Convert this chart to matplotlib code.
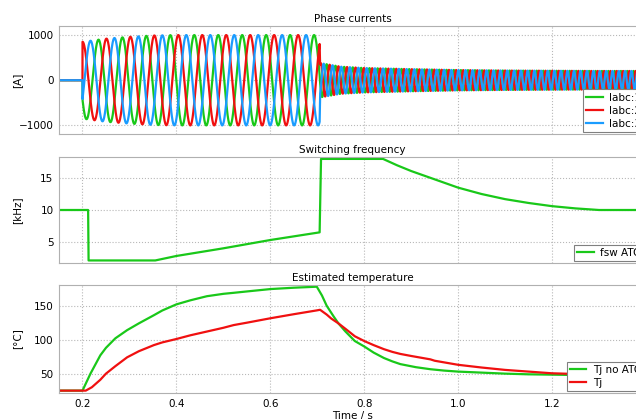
import numpy as np
import matplotlib
matplotlib.use('Agg')
import matplotlib.pyplot as plt

# Phase currents: envelope and electrical frequency
env_t = [0.2, 0.25, 0.3, 0.35, 0.4, 0.705, 0.706, 0.75, 0.8, 0.9, 1.0, 1.1, 1.2, 1.3, 1.4]
env_a = [850, 920, 960, 990, 1000, 1000, 380, 300, 270, 245, 225, 215, 210, 205, 205]
freq_t = [0.2, 0.705, 0.706, 1.0, 1.4]
freq_hz = [19.6, 19.6, 52, 66, 76]

# Switching frequency [kHz]
fsw_t = [0.15, 0.212, 0.213, 0.355, 0.4, 0.5, 0.6, 0.705, 0.708, 0.84, 0.87, 0.9, 0.95,
         1.0, 1.05, 1.1, 1.15, 1.2, 1.25, 1.3, 1.4]
fsw = [10, 10, 2.1, 2.1, 2.8, 4.0, 5.3, 6.5, 18, 18, 17.0, 16.1, 14.8,
       13.5, 12.5, 11.7, 11.1, 10.6, 10.25, 10.0, 10.0]

# Estimated temperature [degC]
tj_noatc_t = [0.15, 0.2, 0.217, 0.238, 0.25, 0.27, 0.295, 0.32, 0.352, 0.37, 0.4, 0.43,
              0.465, 0.5, 0.522, 0.55, 0.6, 0.65, 0.699, 0.71, 0.72, 0.735, 0.745,
              0.76, 0.78, 0.8, 0.82, 0.842, 0.86, 0.877, 0.91, 0.941, 0.97, 1.0,
              1.05, 1.1, 1.15, 1.2, 1.3, 1.4]
tj_noatc = [25, 25, 50, 77, 88, 102, 114, 124, 136, 143, 152, 158,
            164, 167.5, 169, 171, 174.5, 176.5, 178, 165, 150, 134, 124,
            112, 98, 90, 81, 73, 68, 64, 59.5, 56.5, 54.5, 53,
            51.5, 50, 49, 48.5, 47.5, 47]
tj_t = [0.15, 0.207, 0.22, 0.238, 0.25, 0.27, 0.295, 0.32, 0.352, 0.37, 0.4, 0.43,
        0.465, 0.5, 0.522, 0.55, 0.6, 0.65, 0.698, 0.706, 0.72, 0.73, 0.745,
        0.76, 0.78, 0.8, 0.82, 0.842, 0.86, 0.877, 0.9, 0.941, 0.95, 1.0,
        1.05, 1.1, 1.15, 1.2, 1.25, 1.3, 1.4]
tj = [25, 25, 30, 41, 50, 61, 74, 83, 92, 96, 101, 106.5,
      112, 117.5, 121.5, 125, 131.5, 137.5, 143, 144, 137, 131, 124,
      116, 105, 98, 92, 86, 82, 79, 76, 71, 69, 63,
      59, 55.5, 53, 50.5, 49.5, 48.5, 47.5]

GREEN = '#19c819'
RED = '#f01010'
BLUE = '#1a9cff'

plt.rcParams['font.family'] = 'DejaVu Sans'
plt.rcParams['font.size'] = 7.5

# build the three phase currents from envelope + frequency
dt = 0.0001
t = np.arange(0.15, 1.4, dt)
amp = np.where(t < 0.2, 0.0, np.interp(t, env_t, env_a))
f = np.interp(t, freq_t, freq_hz)
theta = 2 * np.pi * np.cumsum(f) * dt
theta -= np.interp(0.2, t, theta)
ia = amp * np.cos(theta - 4 * np.pi / 3)
ib = amp * np.cos(theta)
ic = amp * np.cos(theta - 2 * np.pi / 3)

fig = plt.figure(figsize=(6.36, 4.19), dpi=100)
left, width = 59 / 636, 587 / 636
ax1 = fig.add_axes([left, 285 / 419, width, 108 / 419])
ax2 = fig.add_axes([left, 156 / 419, width, 106 / 419])
ax3 = fig.add_axes([left, 26 / 419, width, 108 / 419])

lw = 1.6
ax1.plot(t, ia, color=GREEN, lw=lw, label='Iabc:1')
ax1.plot(t, ib, color=RED, lw=lw, label='Iabc:2')
ax1.plot(t, ic, color=BLUE, lw=lw, label='Iabc:3')
ax1.set_ylim(-1190, 1200)
ax1.set_yticks([-1000, 0, 1000])
ax1.set_title('Phase currents', fontsize=7.5, pad=3)
ax1.set_ylabel('[A]')

ax2.plot(fsw_t, fsw, color=GREEN, lw=lw, label='fsw ATC')
ax2.set_ylim(1.7, 18.3)
ax2.set_yticks([5, 10, 15])
ax2.set_title('Switching frequency', fontsize=7.5, pad=3)
ax2.set_ylabel('[kHz]')

ax3.plot(tj_noatc_t, tj_noatc, color=GREEN, lw=lw, label='Tj no ATC')
ax3.plot(tj_t, tj, color=RED, lw=lw, label='Tj')
ax3.set_ylim(21.5, 180.5)
ax3.set_yticks([50, 100, 150])
ax3.set_title('Estimated temperature', fontsize=7.5, pad=3)
ax3.set_ylabel('[°C]')
ax3.set_xlabel('Time / s', labelpad=1.5)

for ax in (ax1, ax2, ax3):
    ax.set_xlim(0.15, 1.4)
    ax.set_xticks([0.2, 0.4, 0.6, 0.8, 1.0, 1.2])
    ax.grid(True, linestyle=':', color='#b8b8b8', linewidth=0.8)
    ax.tick_params(length=0, pad=4, labelsize=7.5)
    for s in ax.spines.values():
        s.set_color('#b0b0b0')
    ax.yaxis.set_label_coords(-0.063, 0.5)
    leg = ax.legend(loc='lower right', fontsize=7.5, fancybox=False, framealpha=1,
                    edgecolor='#808080', handlelength=1.6, handletextpad=0.6,
                    borderaxespad=0.2, labelspacing=0.3, borderpad=0.3)
    leg.get_frame().set_linewidth(0.8)
ax1.tick_params(labelbottom=False)
ax2.tick_params(labelbottom=False)

fig.savefig('out.png', dpi=100)
